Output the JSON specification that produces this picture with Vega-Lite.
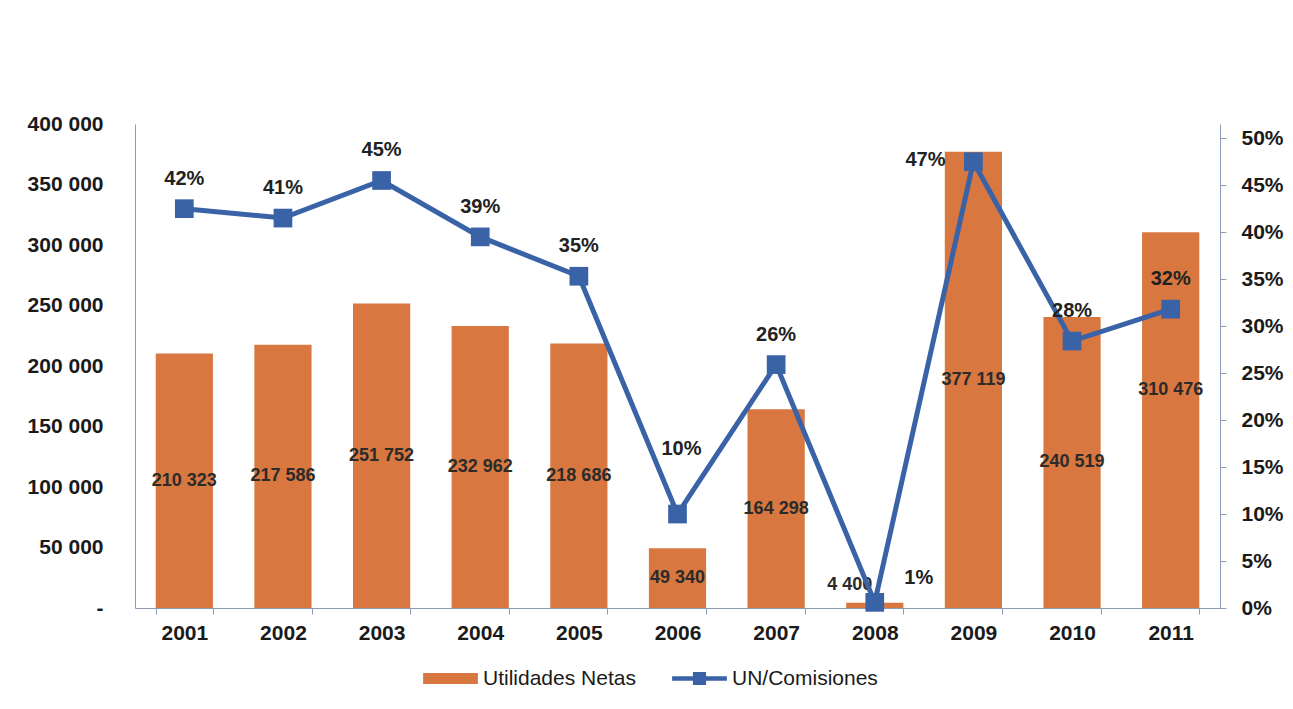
{
  "$schema": "https://vega.github.io/schema/vega-lite/v6.json",
  "width": 1085,
  "height": 484,
  "autosize": {"type": "none"},
  "padding": {"left": 135, "top": 124, "right": 73, "bottom": 101},
  "background": "white",
  "config": {
    "view": {"stroke": null},
    "font": "Liberation Sans",
    "locale": {"number": {"decimal": ",", "thousands": " ", "grouping": [3], "currency": ["", ""]}},
    "axis": {"grid": false, "domainColor": "#8C9CB5", "tickColor": "#8C9CB5", "labelColor": "#1a1a1a", "labelFont": "Liberation Sans", "labelFontSize": 21, "labelFontWeight": "bold"}
  },
  "data": {
    "values": [
      {"year": "2001", "un": 210323, "ratio": 0.4249},
      {"year": "2002", "un": 217586, "ratio": 0.4149},
      {"year": "2003", "un": 251752, "ratio": 0.4549},
      {"year": "2004", "un": 232962, "ratio": 0.3949},
      {"year": "2005", "un": 218686, "ratio": 0.3530},
      {"year": "2006", "un": 49340, "ratio": 0.1000},
      {"year": "2007", "un": 164298, "ratio": 0.2590},
      {"year": "2008", "un": 4400, "ratio": 0.0060},
      {"year": "2009", "un": 377119, "ratio": 0.4749},
      {"year": "2010", "un": 240519, "ratio": 0.2840},
      {"year": "2011", "un": 310476, "ratio": 0.3180}
    ]
  },
  "encoding": {
    "x": {
      "field": "year", "type": "ordinal",
      "scale": {"paddingInner": 0.42, "paddingOuter": 0.21},
      "axis": {"title": null, "labelAngle": 0, "tickBand": "extent", "tickSize": 6, "labelPadding": 8, "labelFontWeight": 600}
    }
  },
  "layer": [
    {
      "layer": [
        {
          "mark": {"type": "bar"},
          "encoding": {
            "y": {
              "field": "un", "type": "quantitative", "title": null,
              "scale": {"domain": [0, 400000], "nice": false},
              "axis": {"title": null, "values": [0, 50000, 100000, 150000, 200000, 250000, 300000, 350000, 400000], "format": ",d", "labelExpr": "datum.value == 0 ? '-' : datum.label", "ticks": false, "labelPadding": 32}
            },
            "fill": {
              "datum": "Utilidades Netas", "type": "nominal",
              "scale": {"range": ["#D8773F"]},
              "legend": {"orient": "none", "legendX": 288, "legendY": 527, "title": null, "symbolType": "M-1,-0.2H1V0.2H-1Z", "symbolSize": 3000, "symbolStrokeWidth": 0, "labelFont": "Liberation Sans", "labelFontSize": 21, "labelFontWeight": "normal", "labelOffset": 5, "labelColor": "#1a1a1a"}
            }
          }
        },
        {
          "transform": [{"filter": "datum.year != '2008' && datum.year != '2011'"}, {"calculate": "datum.un / 2", "as": "mid"}],
          "mark": {"type": "text", "fontSize": 18, "fontWeight": "bold", "color": "#2b2b2b"},
          "encoding": {
            "y": {"field": "mid", "type": "quantitative", "title": null},
            "text": {"field": "un", "type": "quantitative", "format": ",d"}
          }
        },
        {
          "transform": [{"filter": "datum.year == '2011'"}, {"calculate": "datum.un / 2", "as": "mid"}],
          "mark": {"type": "text", "fontSize": 18, "fontWeight": "bold", "color": "#2b2b2b", "dy": -30},
          "encoding": {
            "y": {"field": "mid", "type": "quantitative", "title": null},
            "text": {"field": "un", "type": "quantitative", "format": ",d"}
          }
        },
        {
          "transform": [{"filter": "datum.year == '2008'"}],
          "mark": {"type": "text", "fontSize": 18, "fontWeight": "bold", "color": "#2b2b2b", "dy": -18, "dx": -25},
          "encoding": {
            "y": {"field": "un", "type": "quantitative", "title": null},
            "text": {"field": "un", "type": "quantitative", "format": ",d"}
          }
        }
      ]
    },
    {
      "layer": [
        {
          "mark": {"type": "line", "color": "#3A62A7", "strokeWidth": 5},
          "encoding": {
            "y": {
              "field": "ratio", "type": "quantitative", "title": null,
              "scale": {"domain": [0, 0.515], "nice": false},
              "axis": {"title": null, "orient": "right", "values": [0, 0.05, 0.1, 0.15, 0.2, 0.25, 0.3, 0.35, 0.4, 0.45, 0.5], "format": ".0%", "tickSize": 6, "labelPadding": 15}
            }
          }
        },
        {
          "mark": {"type": "point", "shape": "square", "filled": true, "size": 350, "opacity": 1},
          "encoding": {
            "y": {"field": "ratio", "type": "quantitative", "title": null},
            "fill": {
              "datum": "UN/Comisiones", "type": "nominal",
              "scale": {"range": ["#3A62A7"]},
              "legend": {"orient": "none", "legendX": 537, "legendY": 527, "title": null, "symbolType": "M-1,-0.08H1V0.08H-1Z M-0.24,-0.24H0.24V0.24H-0.24Z", "symbolSize": 3000, "symbolStrokeWidth": 0, "labelFont": "Liberation Sans", "labelFontSize": 21, "labelFontWeight": "normal", "labelOffset": 5, "labelColor": "#1a1a1a"}
            }
          }
        },
        {
          "transform": [{"filter": "datum.year != '2006' && datum.year != '2008' && datum.year != '2009'"}],
          "mark": {"type": "text", "fontSize": 20, "fontWeight": "bold", "color": "#222222", "dy": -30},
          "encoding": {
            "y": {"field": "ratio", "type": "quantitative", "title": null},
            "text": {"field": "ratio", "type": "quantitative", "format": ".0%"}
          }
        },
        {
          "transform": [{"filter": "datum.year == '2006'"}],
          "mark": {"type": "text", "fontSize": 20, "fontWeight": "bold", "color": "#222222", "dy": -65, "dx": 4},
          "encoding": {
            "y": {"field": "ratio", "type": "quantitative", "title": null},
            "text": {"field": "ratio", "type": "quantitative", "format": ".0%"}
          }
        },
        {
          "transform": [{"filter": "datum.year == '2008'"}],
          "mark": {"type": "text", "fontSize": 20, "fontWeight": "bold", "color": "#222222", "dy": -24, "dx": 44},
          "encoding": {
            "y": {"field": "ratio", "type": "quantitative", "title": null},
            "text": {"field": "ratio", "type": "quantitative", "format": ".0%"}
          }
        },
        {
          "transform": [{"filter": "datum.year == '2009'"}],
          "mark": {"type": "text", "fontSize": 20, "fontWeight": "bold", "color": "#222222", "dy": -2, "dx": -48},
          "encoding": {
            "y": {"field": "ratio", "type": "quantitative", "title": null},
            "text": {"field": "ratio", "type": "quantitative", "format": ".0%"}
          }
        }
      ]
    }
  ],
  "resolve": {"scale": {"y": "independent", "fill": "independent"}, "legend": {"fill": "independent"}}
}
